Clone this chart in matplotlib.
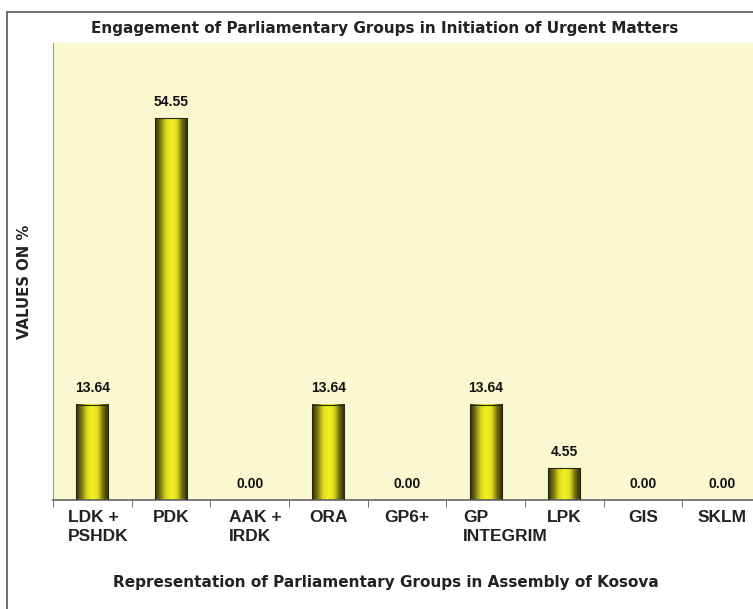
import numpy as np
import matplotlib
matplotlib.use("Agg")
import matplotlib.pyplot as plt
import matplotlib.transforms as mtransforms
from matplotlib.colors import LinearSegmentedColormap
from matplotlib.patches import Rectangle

groups = ["LDK +\nPSHDK", "PDK", "AAK +\nIRDK", "ORA", "GP6+", "GP\nINTEGRIM", "LPK", "GIS", "SKLM"]
values = [13.64, 54.55, 0.00, 13.64, 0.00, 13.64, 4.55, 0.00, 0.00]

TITLE = "Engagement of Parliamentary Groups in Initiation of Urgent Matters"
XLABEL = "Representation of Parliamentary Groups in Assembly of Kosova"
YLABEL = "VALUES ON %"

W, H = 753, 609
fig = plt.figure(figsize=(W / 100, H / 100), dpi=100)
fig.patch.set_facecolor("white")

# outer frame of the chart
fig.patches.append(Rectangle((7 / W, -0.1), 1.2, 1 - 12 / H + 0.1, transform=fig.transFigure,
                             fill=False, edgecolor="#555555", lw=1.2))

ax = fig.add_axes([53 / W, 1 - 500 / H, 708 / W, 457 / H])
ax.set_facecolor("#FAF8D0")

# cylinder-like shading across each bar
shade = LinearSegmentedColormap.from_list(
    "bar", ["#2a2a0a", "#7a7612", "#dcd81c", "#f4f024", "#e0dc1c", "#6a6810", "#262608"])
grad = np.linspace(0, 1, 256).reshape(1, -1)
bw = 0.41
for i, v in enumerate(values):
    x0 = i + 0.5 - bw / 2
    if v > 0:
        ax.imshow(grad, cmap=shade, aspect="auto", extent=(x0, x0 + bw, 0, v),
                  interpolation="bicubic", zorder=2)
        ax.add_patch(Rectangle((x0, 0), bw, v, fill=False, edgecolor="#2a2a10", lw=0.8, zorder=3))
    ax.text(i + 0.5, v + 1.3, f"{v:.2f}", ha="center", va="bottom", fontsize=10,
            fontweight="bold", family="Liberation Sans", color="#111111", zorder=4)

ax.set_xlim(0, len(groups))
ax.set_ylim(0, 65.3)

ax.set_xticks(np.arange(len(groups)) + 0.5)
ax.set_xticklabels(groups, fontsize=12.5, fontweight="bold", family="Liberation Sans",
                   color="#222222", multialignment="left", linespacing=1.35)
ax.set_xticks(np.arange(len(groups) + 1), minor=True)
ax.tick_params(axis="x", which="major", length=0, pad=7)
ax.tick_params(axis="x", which="minor", length=5, color="#555555", direction="out")
ax.set_yticks([])

# wrapped labels sit a little right of the category centre, as in the original
for lab in ax.get_xticklabels():
    if "\n" in lab.get_text():
        dx = 20 if "INTEGRIM" in lab.get_text() else 6
        lab.set_transform(lab.get_transform() +
                          mtransforms.ScaledTranslation(dx / 100, 0, fig.dpi_scale_trans))

for s in ["top", "right"]:
    ax.spines[s].set_visible(False)
ax.spines["left"].set_color("#999999")
ax.spines["bottom"].set_color("#666666")
ax.spines["bottom"].set_linewidth(1.2)

fig.text(385 / W, 1 - 28 / H, TITLE, ha="center", va="center", fontsize=11,
         fontweight="bold", color="#222222")
fig.text(386 / W, 1 - 583 / H, XLABEL, ha="center", va="center", fontsize=11,
         fontweight="bold", color="#222222")
fig.text(25 / W, 1 - 282 / H, YLABEL, ha="center", va="center", fontsize=10.7,
         fontweight="bold", color="#222222", rotation=90)

fig.savefig("out.png", dpi=100)
